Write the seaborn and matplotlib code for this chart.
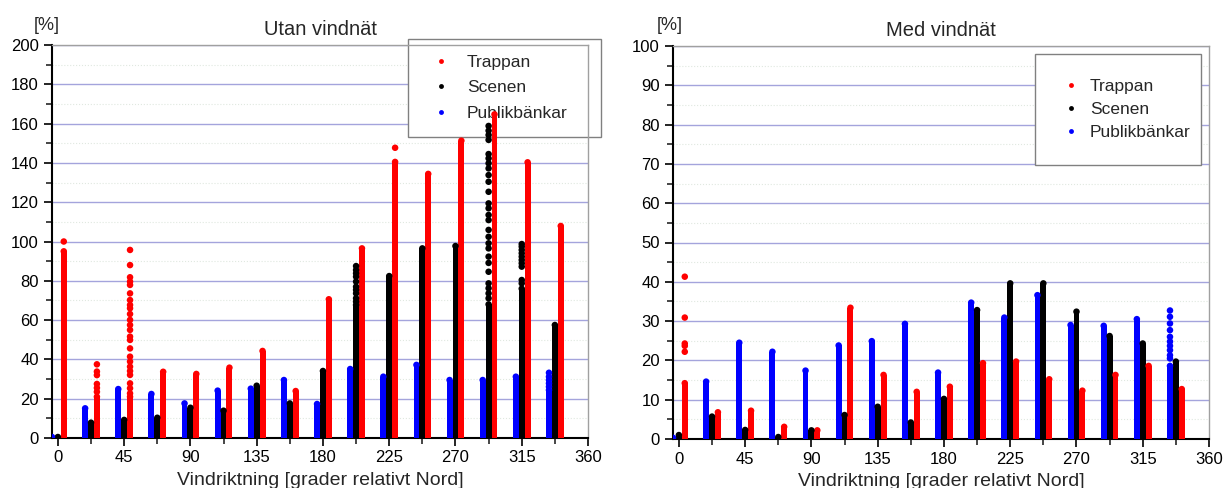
import pandas as pd
import seaborn as sns
import matplotlib.pyplot as plt
from matplotlib.lines import Line2D
from matplotlib.ticker import MultipleLocator


directions = [0, 22.5, 45, 67.5, 90, 112.5, 135, 157.5,
              180, 202.5, 225, 247.5, 270, 292.5, 315, 337.5]

# Utan vindnät - top of the solid dot columns [%]
utan_trappan = [95, 21, 21, 33.7, 32.6, 35.8, 44.3, 23.9,
                70.6, 96.5, 140.5, 134.4, 151.3, 164.7, 140.3, 107.9]
utan_scenen = [0.5, 7.8, 9.2, 10.3, 15.4, 13.9, 26.6, 17.6,
               34.1, 67.7, 82.4, 96.5, 97.7, 68, 76, 57.5]
utan_publik = [0.5, 15.1, 24.9, 22.4, 17.6, 24.1, 25.1, 29.5,
               17.3, 35.1, 31.2, 37.2, 29.5, 29.5, 31.2, 24.4]

# Utan vindnät - loose dots above the columns (riktning, %)
utan_trappan_extra = [(0, 100), (22.5, 37.5), (22.5, 33.8), (22.5, 32.0), (22.5, 27.5),
                      (22.5, 25.5), (22.5, 23.5),
                      (45, 95.7), (45, 88.0), (45, 81.8), (45, 79.6), (45, 77.9), (45, 73.6),
                      (45, 70.2), (45, 67.7), (45, 66.0), (45, 63.1), (45, 60.1), (45, 57.5),
                      (45, 55.0), (45, 51.6), (45, 49.9), (45, 45.6), (45, 41.4), (45, 38.9),
                      (45, 36.3), (45, 34.1), (45, 32.1), (45, 27.8), (45, 25.3), (45, 22.7),
                      (225, 147.7)]
utan_scenen_extra = [(202.5, 87.5), (202.5, 85.5), (202.5, 83.8), (202.5, 82.1), (202.5, 79.6),
                     (202.5, 77.0), (202.5, 75.4), (202.5, 73.6), (202.5, 71.1), (202.5, 69.4),
                     (292.5, 158.8), (292.5, 156.4), (292.5, 154.2), (292.5, 151.7), (292.5, 144.5),
                     (292.5, 142.3), (292.5, 139.8), (292.5, 137.2), (292.5, 133.8), (292.5, 130.4),
                     (292.5, 125.3), (292.5, 119.4), (292.5, 116.9), (292.5, 113.5), (292.5, 110.9),
                     (292.5, 105.9), (292.5, 102.4), (292.5, 99.1), (292.5, 96.5), (292.5, 92.3),
                     (292.5, 89.1), (292.5, 84.6), (292.5, 78.7), (292.5, 76.2), (292.5, 73.6),
                     (292.5, 71.1),
                     (315, 98.7), (315, 97.4), (315, 95.7), (315, 94.0), (315, 92.3), (315, 90.6),
                     (315, 88.9), (315, 87.2), (315, 80.4), (315, 78.7)]
utan_publik_extra = [(337.5, 33.2), (337.5, 31.2), (337.5, 29.5), (337.5, 27.8), (337.5, 26.1)]

# Med vindnät
med_trappan = [14.2, 6.8, 7.2, 3.1, 2.2, 33.4, 16.3, 12.0,
               13.3, 19.3, 19.7, 15.2, 12.3, 16.3, 18.6, 12.7]
med_scenen = [1.0, 5.7, 2.3, 0.5, 2.2, 6.1, 8.2, 4.2,
              10.2, 32.8, 39.6, 39.6, 32.4, 26.2, 24.3, 19.7]
med_publik = [0.3, 14.6, 24.5, 22.2, 17.4, 23.8, 24.9, 29.3,
              16.9, 34.7, 30.9, 36.6, 29.0, 28.8, 30.5, 18.6]

med_trappan_extra = [(0, 41.3), (0, 30.9), (0, 24.3), (0, 23.7), (0, 22.2)]
med_scenen_extra = []
med_publik_extra = [(337.5, 32.7), (337.5, 31.1), (337.5, 29.4), (337.5, 27.7), (337.5, 26.0),
                    (337.5, 24.8), (337.5, 23.7), (337.5, 22.6), (337.5, 21.3), (337.5, 20.5)]


hue_order = ["Publikbänkar", "Scenen", "Trappan"]
colors = {"Trappan": "#ff0000", "Scenen": "#000000", "Publikbänkar": "#0000ff"}
group_w = 0.533
step = 22.5
offsets = {name: (i - 1) * group_w * step / 3 for i, name in enumerate(hue_order)}


def columns_table(tr, sc, pu):
    return pd.DataFrame({
        "riktning": directions * 3,
        "andel": tr + sc + pu,
        "plats": ["Trappan"] * 16 + ["Scenen"] * 16 + ["Publikbänkar"] * 16,
    })


def extra_table(tr, sc, pu):
    rows = [(d, v, "Trappan") for d, v in tr] + [(d, v, "Scenen") for d, v in sc] \
        + [(d, v, "Publikbänkar") for d, v in pu]
    return pd.DataFrame(rows, columns=["riktning", "andel", "plats"])


def draw_panel(ax, cols, extra, title, ymax, ystep, legend_kw):
    sns.barplot(data=cols, x="riktning", y="andel", hue="plats", hue_order=hue_order,
                palette=colors, native_scale=True, width=group_w, gap=0.0,
                saturation=1, errorbar=None, linewidth=0, legend=False, ax=ax, zorder=3)
    # dots on top of the columns and the loose dots
    dots = pd.concat([cols, extra], ignore_index=True)
    dots["x"] = dots["riktning"] + dots["plats"].map(offsets)
    sns.scatterplot(data=dots, x="x", y="andel", hue="plats", palette=colors, s=22,
                    linewidth=0, legend=False, ax=ax, zorder=4, clip_on=True)

    ax.set_xlim(-4, 360)
    ax.set_ylim(0, ymax)
    ax.xaxis.set_major_locator(MultipleLocator(45))
    ax.xaxis.set_minor_locator(MultipleLocator(22.5))
    ax.yaxis.set_major_locator(MultipleLocator(ystep))
    ax.yaxis.set_minor_locator(MultipleLocator(ystep / 2))
    ax.tick_params(axis="both", which="major", direction="out", length=6, width=1.2,
                   labelsize=12, colors="black")
    ax.tick_params(axis="both", which="minor", direction="out", length=4, width=1.2)
    ax.tick_params(axis="x", pad=3)

    ax.set_axisbelow(True)
    ax.grid(True, which="major", axis="y", color="#a4a4dc", linewidth=1.0)
    ax.grid(True, which="minor", axis="y", color="#e0e8e0", linewidth=0.8, linestyle=":")
    ax.grid(False, axis="x", which="both")

    for side in ["left", "bottom"]:
        ax.spines[side].set_color("black")
        ax.spines[side].set_linewidth(1.5)
    for side in ["top", "right"]:
        ax.spines[side].set_visible(True)
        ax.spines[side].set_color("#a0a0a0")
        ax.spines[side].set_linewidth(1.0)

    ax.set_title(title, fontsize=14.5, pad=7)
    ax.set_xlabel("Vindriktning [grader relativt Nord]", fontsize=14, labelpad=5)
    ax.set_ylabel("")

    handles = [Line2D([], [], marker="o", linestyle="", markersize=3.5,
                      markerfacecolor=colors[n], markeredgewidth=0, label=n)
               for n in ["Trappan", "Scenen", "Publikbänkar"]]
    leg = ax.legend(handles=handles, loc="upper left", mode="expand", fontsize=12.5,
                    frameon=True, fancybox=False, edgecolor="#808080", framealpha=1,
                    borderaxespad=0, **legend_kw)
    leg.get_frame().set_linewidth(1.0)
    leg.set_zorder(2)


sns.set_style("ticks")
plt.rcParams['font.family'] = ['Liberation Sans', 'DejaVu Sans']

fig = plt.figure(figsize=(12.23, 4.88), dpi=100)
ax1 = fig.add_axes([52 / 1223, 50 / 488, 536 / 1223, 393 / 488])
ax2 = fig.add_axes([673 / 1223, 49 / 488, 536 / 1223, 393 / 488])

draw_panel(ax1, columns_table(utan_trappan, utan_scenen, utan_publik),
           extra_table(utan_trappan_extra, utan_scenen_extra, utan_publik_extra),
           "Utan vindnät", 200, 20,
           dict(bbox_to_anchor=(0.664, 0.5, 0.36, 0.515), borderpad=0.9, labelspacing=0.6,
                handlelength=2.0, handletextpad=0.5))
draw_panel(ax2, columns_table(med_trappan, med_scenen, med_publik),
           extra_table(med_trappan_extra, med_scenen_extra, med_publik_extra),
           "Med vindnät", 100, 10,
           dict(bbox_to_anchor=(0.676, 0.5, 0.31, 0.48), borderpad=1.45, labelspacing=0.45,
                handlelength=1.2, handletextpad=0.5))

fig.text(47 / 1223, 1 - 25 / 488, "[%]", ha="center", va="center", fontsize=13)
fig.text(670 / 1223, 1 - 25 / 488, "[%]", ha="center", va="center", fontsize=13)

fig.savefig("out.png", dpi=100)
